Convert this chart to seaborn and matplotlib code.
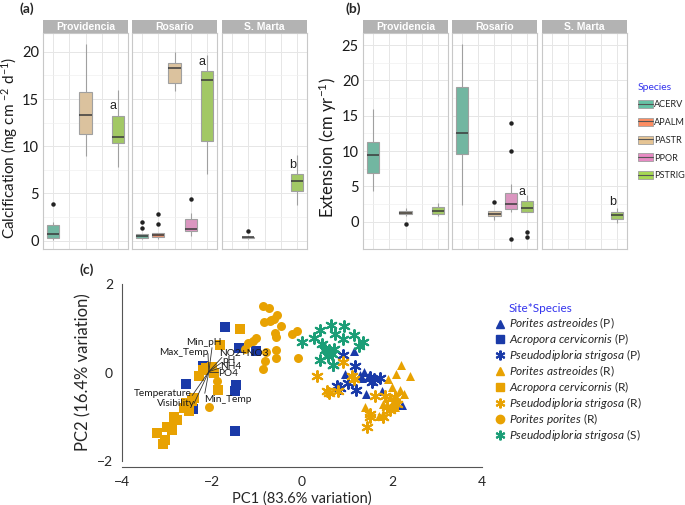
import matplotlib
matplotlib.use("Agg")
import matplotlib.pyplot as plt
from matplotlib.patches import Patch
from matplotlib.lines import Line2D
import pandas as pd
import seaborn as sns

# ---- datos ----
species = ["ACERV", "APALM", "PASTR", "PPOR", "PSTRIG"]
sites = ["Providencia", "Rosario", "S. Marta"]
species_colors = ["#66c2a5", "#fc8d62", "#e5c494", "#e78ac3", "#a6d854"]

# (a) calcificacion
calc_providencia = {
    "ACERV": [0.1, 0.2, 0.25, 0.5, 0.7, 1.2, 1.6, 2.0, 3.9],
    "PASTR": [9.0, 10.5, 11.3, 12.5, 13.3, 14.5, 15.7, 18.0, 20.8],
    "PSTRIG": [7.8, 9.5, 10.3, 10.7, 11.0, 12.0, 13.2, 14.5, 16.0],
}
calc_rosario = {
    "ACERV": [0.2, 0.25, 0.3, 0.4, 0.5, 0.6, 0.7, 1.35, 2.0],
    "APALM": [0.2, 0.3, 0.35, 0.45, 0.55, 0.7, 0.8, 1.8, 2.8],
    "PASTR": [15.8, 16.3, 16.7, 17.6, 18.3, 18.5, 18.8, 19.4, 20.0],
    "PPOR": [0.46, 0.8, 1.06, 1.15, 1.27, 1.8, 2.3, 2.9, 4.4],
    "PSTRIG": [7.0, 9.0, 10.6, 14.0, 17.0, 17.5, 18.0, 19.0, 19.7],
}
calc_smarta = {
    "APALM": [0.2, 0.25, 0.28, 0.32, 0.35, 0.38, 0.42, 0.45, 1.0],
    "PSTRIG": [3.8, 4.8, 5.3, 5.9, 6.3, 6.7, 7.1, 8.0, 9.1],
}
calc_letters = {"Providencia": ("a", 13.6), "Rosario": ("a", 18.3), "S. Marta": ("b", 7.4)}

# (b) extension
ext_providencia = {
    "ACERV": [4.4, 6.0, 6.95, 8.5, 9.5, 10.5, 11.3, 13.5, 16.0],
    "PASTR": [-0.3, 0.8, 1.04, 1.15, 1.27, 1.4, 1.5, 1.7, 1.9],
    "PSTRIG": [0.8, 0.95, 1.08, 1.35, 1.55, 1.8, 2.02, 2.4, 2.7],
}
ext_rosario = {
    "ACERV": [2.4, 6.0, 9.6, 11.0, 12.6, 15.5, 19.1, 22.0, 25.1],
    "PASTR": [0.28, 0.6, 0.82, 0.95, 1.04, 1.3, 1.58, 1.58, 2.85],
    "PPOR": [-2.45, 1.4, 1.6, 1.78, 2.0, 2.3, 2.58, 3.0, 3.5, 4.0, 5.3, 10.0, 14.0],
    "PSTRIG": [-2.1, -1.4, 1.32, 1.6, 1.97, 2.4, 2.95, 3.3, 3.75],
}
ext_smarta = {
    "PSTRIG": [-0.2, 0.2, 0.45, 0.8, 1.0, 1.2, 1.45, 1.7, 2.0],
}
ext_letters = {"Rosario": ("a", 3.4), "S. Marta": ("b", 2.0)}

# (c) PCA
pca_labels = [
    "Porites astreoides (P)", "Acropora cervicornis (P)", "Pseudodiploria strigosa (P)",
    "Porites astreoides (R)", "Acropora cervicornis (R)", "Pseudodiploria strigosa (R)",
    "Porites porites (R)", "Pseudodiploria strigosa (S)",
]
pa_p_x = [1.16, 0.95, 1.38, 1.33, 1.46, 1.43, 1.77, 2.22, 1.28]
pa_p_y = [0.48, -0.03, 0.02, -0.12, -0.10, -0.48, -0.42, -0.73, -0.05]
ac_p_x = [-1.72, -2.20, -2.58, -1.40, -1.02, -1.47, -1.50, -2.42, -1.50]
ac_p_y = [1.02, 0.15, -0.26, 0.56, 0.48, -0.28, -0.42, -0.83, -1.33]
ps_p_x = [0.92, 1.18, 0.77, 0.85, 1.03, 1.21, 1.52, 1.60, 1.74, 1.55, 0.68]
ps_p_y = [0.40, 0.14, -0.30, -0.36, -0.24, -0.40, -0.10, -0.15, -0.12, -0.22, 0.16]
pa_r_x = [2.20, 2.39, 2.09, 1.92, 1.99, 2.17, 2.27, 1.40, 1.81, 2.03, 1.81, 1.72, 2.07, 1.95, 2.12]
pa_r_y = [0.18, -0.07, -0.03, -0.14, -0.33, -0.39, -0.48, -0.78, -0.71, -0.67, -0.93, -0.99, -0.78, -0.55, -0.60]
ac_r_x = [-1.38, -1.82, -2.01, -2.14, -2.20, -2.28, -1.95, -1.87, -2.40, -2.57,
          -2.62, -2.51, -2.84, -2.78, -3.00, -2.89, -3.22, -3.04, -3.09, -2.45]
ac_r_y = [0.99, 0.63, 0.12, 0.10, 0.05, -0.07, -0.02, -0.40, -0.58, -0.70,
          -0.81, -0.88, -1.01, -1.08, -1.24, -1.31, -1.37, -1.52, -1.61, -0.65]
ps_r_x = [0.33, 0.92, 1.12, 1.15, 0.55, 0.59, 0.79, 1.63, 1.52, 1.50, 1.44, 1.89, 1.80, 2.11, 2.07, 1.85, 1.95]
ps_r_y = [-0.07, 0.23, -0.07, -0.14, -0.41, -0.47, -0.42, -0.52, -0.93, -1.01, -1.24, -0.78, -1.01, -0.71, -0.56, -0.52, -0.85]
pp_r_x = [-0.87, -0.73, -0.56, -0.85, -0.72, -0.63, -0.47, -0.60, -0.58, -0.22, -0.11, -1.02,
          -1.09, -1.20, -1.27, -0.80, -0.58, -0.82, -0.58, -0.87, -0.09, -1.89, -2.07, -0.70]
pp_r_y = [1.51, 1.45, 1.29, 1.15, 1.16, 1.21, 1.04, 0.90, 0.80, 0.86, 0.93, 0.77,
          0.72, 0.66, 0.54, 0.47, 0.51, 0.27, 0.32, 0.09, 0.32, -0.20, -0.79, 1.18]
ps_s_x = [0.00, 0.26, 0.39, 0.64, 0.94, 0.74, 0.92, 1.15, 1.35, 1.26, 0.44, 0.52, 0.61, 0.70, 0.39, 0.57, 0.69, 0.67]
ps_s_y = [0.69, 0.78, 0.96, 1.08, 1.06, 0.86, 0.76, 0.84, 0.69, 0.59, 0.65, 0.51, 0.50, 0.53, 0.29, 0.38, 0.18, 0.42]

vector_names = ["Min_pH", "Max_Temp", "NO2+NO3", "pH", "NH4", "PO4", "Temperature", "Visibility", "Min_Temp"]
vector_x = [-2.00, -2.09, -1.78, -1.78, -1.80, -1.87, -2.44, -2.40, -2.16]
vector_y = [0.56, 0.43, 0.34, 0.23, 0.11, 0.02, -0.52, -0.70, -0.47]
vector_origin = (-2.07, 0.02)

# ---- estilo ----
sns.set_style("white")
plt.rcParams["font.family"] = ["Lato", "DejaVu Sans"]
plt.rcParams["mathtext.fontset"] = "custom"
plt.rcParams["mathtext.it"] = "Lato:italic"
plt.rcParams["mathtext.rm"] = "Lato"

W, H = 685, 505
fig = plt.figure(figsize=(W / 100, H / 100), dpi=100)


def px_axes(x0, y0, x1, y1):
    return fig.add_axes([x0 / W, 1 - y1 / H, (x1 - x0) / W, (y1 - y0) / H])


def to_long(groups):
    rows = [(sp, v) for sp, vals in groups.items() for v in vals]
    return pd.DataFrame(rows, columns=["species", "value"])


palette = dict(zip(species, species_colors))


def facet_panel(xs, groups_by_site, letters, ylim, yticks, minor, ylabel, ylabel_x, ylabel_size):
    axes = []
    for (x0, x1), site in zip(xs, sites):
        ax = px_axes(x0, 33, x1, 249)
        df = to_long(groups_by_site[site])
        sns.boxplot(data=df, x="species", y="value", hue="species", order=species,
                    hue_order=species, palette=palette, width=0.75, linewidth=0.8,
                    linecolor="#a0a0a0", legend=False, ax=ax, showcaps=False,
                    medianprops=dict(color="#3a3a3a", linewidth=1.1),
                    flierprops=dict(marker="o", markersize=2.2, markerfacecolor="#222222",
                                    markeredgecolor="#222222"))
        ax.set_xlim(-0.6, 4.6)
        ax.set_ylim(*ylim)
        ax.set_yticks(yticks)
        ax.set_yticks(minor, minor=True)
        ax.grid(True, which="major", color="#e6e6e6", linewidth=0.7)
        ax.grid(True, which="minor", axis="y", color="#f0f0f0", linewidth=0.5)
        ax.set_axisbelow(True)
        ax.set_xticks(range(5))
        ax.set_xticklabels([])
        ax.set_xlabel("")
        ax.set_ylabel("")
        ax.tick_params(length=0, labelsize=10.5, colors="#1a1a1a", pad=3)
        if axes:
            ax.set_yticklabels([])
        for s in ax.spines.values():
            s.set_color("#c8c8c8")
            s.set_linewidth(0.8)
        if site in letters:
            txt, yv = letters[site]
            ax.text(3.7, yv, txt, ha="center", va="bottom", fontsize=9, color="#222222",
                    family="Liberation Sans")
        strip = px_axes(x0, 20, x1, 33)
        strip.set_facecolor("#b3b3b3")
        strip.set_xticks([])
        strip.set_yticks([])
        for s in strip.spines.values():
            s.set_visible(False)
        strip.text(0.5, 0.5, site, ha="center", va="center", color="white",
                   fontsize=7.5, fontweight="bold", family="Liberation Sans",
                   transform=strip.transAxes)
        axes.append(ax)
    fig.text(ylabel_x / W, 1 - 148 / H, ylabel, rotation=90, ha="center", va="center",
             fontsize=ylabel_size, color="#1a1a1a")
    return axes


calc_sites = {"Providencia": calc_providencia, "Rosario": calc_rosario, "S. Marta": calc_smarta}
ext_sites = {"Providencia": ext_providencia, "Rosario": ext_rosario, "S. Marta": ext_smarta}

facet_panel([(43, 128), (132, 217), (222, 307)], calc_sites, calc_letters, (-0.9, 22.0),
            [0, 5, 10, 15, 20], [2.5, 7.5, 12.5, 17.5],
            r"Calcification (mg cm $^{-2}$ d$^{-1}$)", 10, 11)
facet_panel([(363, 448), (452, 537), (542, 627)], ext_sites, ext_letters, (-3.85, 26.7),
            [0, 5, 10, 15, 20, 25], [-2.5, 2.5, 7.5, 12.5, 17.5, 22.5],
            r"Extension (cm yr$^{-1}$)", 328, 12)

fig.text(20 / W, 1 - 9 / H, "(a)", fontsize=10, fontweight="bold", va="center")
fig.text(345 / W, 1 - 9 / H, "(b)", fontsize=10, fontweight="bold", va="center")

handles = [(Patch(facecolor=c, edgecolor="#a0a0a0", linewidth=0.6),
            Line2D([], [], color="#555555", linewidth=0.8)) for c in species_colors]
leg = fig.legend(handles, species, loc="upper left", bbox_to_anchor=(638 / W, 1 - 100 / H),
                 frameon=False, prop={"family": "Lato", "size": 6.6},
                 handlelength=1.6, handleheight=0.95, labelspacing=0.95, handletextpad=0.12,
                 borderaxespad=0, borderpad=0)
fig.text(638 / W, 1 - 88 / H, "Species", color="#3333ee", fontsize=7.5, va="center")

# ---- (c) PCA ----
axc = px_axes(122, 284, 482, 461)
groups = [
    (pa_p_x, pa_p_y, "^", "#1a3aa8"), (ac_p_x, ac_p_y, "s", "#1a3aa8"),
    (ps_p_x, ps_p_y, (6, 2, 0), "#1a3aa8"), (pa_r_x, pa_r_y, "^", "#e8a202"),
    (ac_r_x, ac_r_y, "s", "#e8a202"), (ps_r_x, ps_r_y, (6, 2, 0), "#e8a202"),
    (pp_r_x, pp_r_y, "o", "#e8a202"), (ps_s_x, ps_s_y, (6, 2, 0), "#1b9e77"),
]
for gx, gy, m, c in groups:
    if m == (6, 2, 0):
        sns.scatterplot(x=gx, y=gy, marker=m, color=c, s=60, linewidth=1.5,
                        edgecolor=c, ax=axc, zorder=3)
    else:
        sns.scatterplot(x=gx, y=gy, marker=m, color=c, s=42, linewidth=0, ax=axc, zorder=3)

ox, oy = vector_origin
label_pos = [(-2.18, 0.67), (-2.62, 0.46), (-1.29, 0.42), (-1.62, 0.27), (-1.58, 0.13),
             (-1.64, -0.03), (-3.09, -0.47), (-2.80, -0.70), (-1.64, -0.61)]
for name, vx, vy, (tx, ty) in zip(vector_names, vector_x, vector_y, label_pos):
    axc.plot([ox, vx], [oy, vy], color="#333333", linewidth=0.6, zorder=4)
    axc.text(tx, ty, name, ha="center", va="center", fontsize=7.3,
             color="#1a1a1a", zorder=5)

axc.set_xlim(-4, 4)
axc.set_ylim(-2, 2)
axc.set_xticks([-4, -2, 0, 2, 4])
axc.set_yticks([-2, 0, 2])
axc.spines["top"].set_visible(False)
axc.spines["right"].set_visible(False)
axc.spines["bottom"].set_position(("outward", 4))
for s in ("left", "bottom"):
    axc.spines[s].set_color("#555555")
    axc.spines[s].set_linewidth(0.8)
axc.tick_params(direction="out", length=3, width=0.8, color="#555555", labelsize=10)
axc.set_xlabel("PC1 (83.6% variation)", fontsize=10.5, labelpad=3)
axc.set_ylabel("PC2 (16.4% variation)", fontsize=12, labelpad=4)
fig.text(80 / W, 1 - 270 / H, "(c)", fontsize=10, fontweight="bold", va="center")

pca_handles = []
for gx, gy, m, c in groups:
    if m == (6, 2, 0):
        pca_handles.append(Line2D([], [], marker=m, color=c, linestyle="none",
                                  markersize=7, markeredgewidth=1.5))
    else:
        pca_handles.append(Line2D([], [], marker=m, color=c, linestyle="none", markersize=6))
pca_texts = []
for lab in pca_labels:
    name, site = lab.rsplit(" ", 1)
    pca_texts.append(r"$\it{" + name.replace(" ", r"\ ") + "}$ " + site)
leg2 = fig.legend(pca_handles, pca_texts, loc="upper left", bbox_to_anchor=(495 / W, 1 - 316 / H),
                  frameon=False, prop={"family": "Lato", "size": 8.6}, handlelength=0.8,
                  handleheight=0.6, handletextpad=0.4, labelspacing=0.0,
                  borderaxespad=0, borderpad=0)
fig.text(509 / W, 1 - 309 / H, "Site*Species", color="#3333ee", fontsize=8.5, va="center")

fig.savefig("out.png", dpi=100)
